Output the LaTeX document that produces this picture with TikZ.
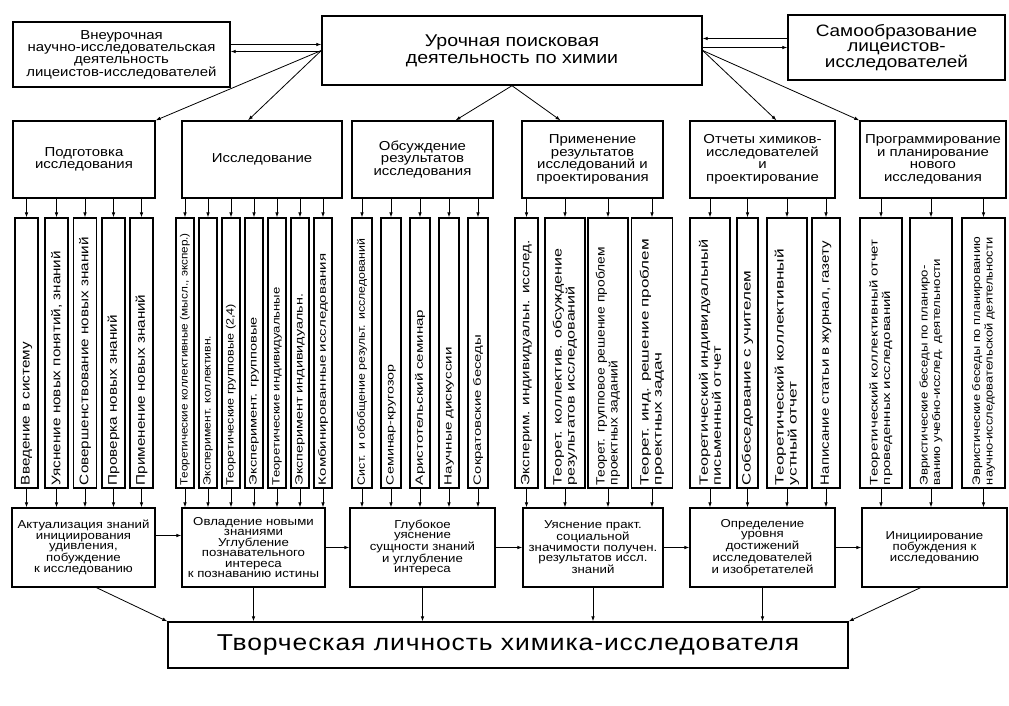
\documentclass[tikz,border=0pt]{standalone}
\usepackage{fontspec}
\setmainfont{Liberation Sans}[FakeStretch=1.15]
\newfontfamily\vfont{Liberation Sans}
\newfontfamily\widefont{Liberation Sans}[FakeStretch=1.15,LetterSpace=4]
\usetikzlibrary{arrows.meta,positioning}
\tikzset{
  topbox/.style={draw,line width=1.4pt,align=center,inner sep=2pt},
  catbox/.style={draw,line width=1.3pt,align=center,minimum height=77pt,inner sep=2pt,font=\fontsize{13}{12.5}\selectfont},
  vbox/.style={draw,line width=1.2pt,rotate=90,text width=264pt,align=left,inner xsep=3pt,inner ysep=1pt},
  resbox/.style={draw,line width=1.3pt,align=center,minimum height=79pt,inner sep=2pt,font=\fontsize{11.5}{10.5}\selectfont},
  arr/.style={-{Latex[length=5pt,width=3.6pt]},line width=0.8pt}
}

\begin{document}
\begin{tikzpicture}[x=1pt,y=-1pt]
  \path[use as bounding box,fill=white] (0,0) rectangle (1009,705);

  % upper row
  \node[topbox,minimum width=217pt,minimum height=65pt,font=\fontsize{13}{12}\selectfont] (vneur) at (121.5,54.5)
    {Внеурочная\\научно-исследовательская\\деятельность\\лицеистов-исследователей};
  \node[topbox,minimum width=380pt,minimum height=69pt,font=\fontsize{17}{17}\selectfont] (urok) at (512,50.5)
    {Урочная поисковая\\деятельность по химии};
  \node[topbox,minimum width=217pt,minimum height=65pt,font=\fontsize{16.5}{15}\selectfont] (self) at (896.5,47.5)
    {Самообразование\\лицеистов-\\исследователей};

  % kinds of activity
  \node[catbox,minimum width=142pt] (prep) at (84,159.5) {Подготовка\\исследования};
  \node[catbox,minimum width=160pt] (res) at (262,159.5) {Исследование};
  \node[catbox,minimum width=141pt] (disc) at (422.5,159.5) {Обсуждение\\результатов\\исследования};
  \node[catbox,minimum width=141pt] (appl) at (592.5,159.5) {Применение\\результатов\\исследований и\\проектирования};
  \node[catbox,minimum width=145pt] (rep) at (762.5,159.5) {Отчеты химиков-\\исследователей\\и\\проектирование};
  \node[catbox,minimum width=146pt] (plan) at (933,159.5) {Программирование\\и планирование\\нового\\исследования};

  % results
  \node[resbox,minimum width=143pt] (actual) at (83.5,547.5)
    {Актуализация знаний\\инициирования\\удивления,\\побуждение\\к исследованию};
  \node[resbox,minimum width=143pt] (master) at (253.5,547.5)
    {Овладение новыми\\знаниями\\Углубление\\познавательного\\интереса\\к познаванию истины};
  \node[resbox,minimum width=145pt] (deep) at (422.5,547.5)
    {Глубокое\\уяснение\\сущности знаний\\и углубление\\интереса};
  \node[resbox,minimum width=140pt] (social) at (593,547.5)
    {Уяснение практ.\\социальной\\значимости получен.\\результатов иссл.\\знаний};
  \node[resbox,minimum width=145pt] (level) at (762.5,547.5)
    {Определение\\уровня\\достижений\\исследователей\\и изобретателей};
  \node[resbox,minimum width=145pt] (initiate) at (934.5,547.5)
    {Инициирование\\побуждения к\\исследованию};

  \node[draw,line width=1.3pt,minimum width=680pt,minimum height=46pt,font=\widefont\fontsize{23}{25}\selectfont] (person) at (508,645)
    {Творческая личность химика-исследователя};

  % forms of work
  \foreach \x/\t [count=\i] in {26.5/Введение в систему, 56.5/{Уяснение новых понятий, знаний},
      85/Совершенствование новых знаний, 113.5/Проверка новых знаний, 141.5/Применение новых знаний}
    \node[vbox,minimum height=23pt,font=\vfont\addfontfeatures{FakeStretch=1.22}\fontsize{12.5}{13}\selectfont] (a\i) at (\x,353) {\t};
  \foreach \x/\s/\t [count=\i] in {185/1.12/{Теоретические коллективные (мысл., экспер.)}, 208/1.16/Эксперимент. коллективн.,
      231/1.2/{Теоретические групповые (2,4)}, 254/1.39/Эксперимент. групповые, 277/1.25/Теоретические индивидуальные,
      300/1.37/Эксперимент индивидуальн., 323/1.43/Комбинированные исследования}
    \node[vbox,minimum height=18pt,font=\vfont\addfontfeatures{FakeStretch=\s}\fontsize{10.5}{11}\selectfont] (b\i) at (\x,353) {\t};
  \foreach \x/\s/\t [count=\i] in {362/1.18/Сист. и обобщение результ. исследований, 391/1.36/Семинар-кругозор,
      420/1.44/Аристотельский семинар, 449/1.45/Научные дискуссии, 478/1.42/Сократовские беседы}
    \node[vbox,minimum height=20pt,font=\vfont\addfontfeatures{FakeStretch=\s}\fontsize{10.5}{11}\selectfont] (c\i) at (\x,353) {\t};
  \foreach \x/\w/\s/\t [count=\i] in {526.5/23/1.27/Эксперим. индивидуальн. исслед.,
      565/40/1.34/{Теорет. коллектив. обсуждение\\результатов исследований},
      608/40/1.15/{Теорет. групповое решение проблем\\проектных заданий},
      652/41/1.42/{Теорет. инд. решение проблем\\проектных задач}}
    \node[vbox,minimum height=\w pt,font=\vfont\addfontfeatures{FakeStretch=\s}\fontsize{12}{13}\selectfont] (d\i) at (\x,353) {\t};
  \foreach \x/\w/\s/\t [count=\i] in {710/40/1.36/{Теоретический индивидуальный\\письменный отчет},
      747.5/21/1.41/Собеседование с учителем,
      787/40/1.44/{Теоретический коллективный\\устный отчет},
      826/28/1.25/{Написание статьи в журнал, газету}}
    \node[vbox,minimum height=\w pt,font=\vfont\addfontfeatures{FakeStretch=\s}\fontsize{12}{13}\selectfont] (e\i) at (\x,353) {\t};
  \foreach \x/\w/\s/\t [count=\i] in {881/42/1.36/{Теоретический коллективный отчет\\проведенных исследований},
      931/42/1.2/{Эвристические беседы по планиро-\\ванию учебно-исслед. деятельности},
      983.5/43/1.17/{Эвристические беседы по планированию\\научно-исследовательской деятельности}}
    \node[vbox,minimum height=\w pt,font=\vfont\addfontfeatures{FakeStretch=\s}\fontsize{11}{12.5}\selectfont] (f\i) at (\x,353) {\t};

  % top links
  \draw[arr] ([yshift=10pt]vneur.east) -- ([yshift=10pt]vneur.east -| urok.west);
  \draw[arr] ([yshift=3pt]vneur.east -| urok.west) -- ([yshift=3pt]vneur.east);
  \draw[arr] ([yshift=9pt]self.west) -- ([yshift=9pt]self.west -| urok.east);
  \draw[arr] (self.west -| urok.east) -- (self.west);
  \draw[arr] (urok.west) -- (prep.north east);
  \draw[arr] (urok.west) -- ([xshift=-14pt]res.north);
  \draw[arr] (urok.south) -- ([xshift=33pt]disc.north);
  \draw[arr] (urok.south) -- ([xshift=-32pt]appl.north);
  \draw[arr] (urok.east) -- ([xshift=14pt]rep.north);
  \draw[arr] (urok.east) -- (plan.north west);

  % into and out of the forms
  \foreach \g/\n/\up/\down in {a/5/prep/actual, b/7/res/master, c/5/disc/deep,
      d/4/appl/social, e/4/rep/level, f/3/plan/initiate}
    \foreach \i in {1,...,\n} {
      \draw[arr] (\g\i.east |- \up.south) -- (\g\i.east);
      \draw[arr] (\g\i.west) -- (\g\i.west |- \down.north);
    }

  % results chain
  \draw[arr] ([yshift=12pt]actual.east) -- ([yshift=12pt]actual.east -| master.west);
  \draw[arr] (master.east) -- (deep.west);
  \draw[arr] (deep.east) -- (social.west);
  \draw[arr] (social.east) -- (level.west);
  \draw[arr] (level.east) -- (initiate.west);

  \draw[arr] ([xshift=13pt]actual.south) -- (person.north west);
  \draw[arr] (master.south) -- (master.south |- person.north);
  \draw[arr] (deep.south) -- (deep.south |- person.north);
  \draw[arr] (social.south) -- (social.south |- person.north);
  \draw[arr] (level.south) -- (level.south |- person.north);
  \draw[arr] ([xshift=-14pt]initiate.south) -- (person.north east);
\end{tikzpicture}
\end{document}
